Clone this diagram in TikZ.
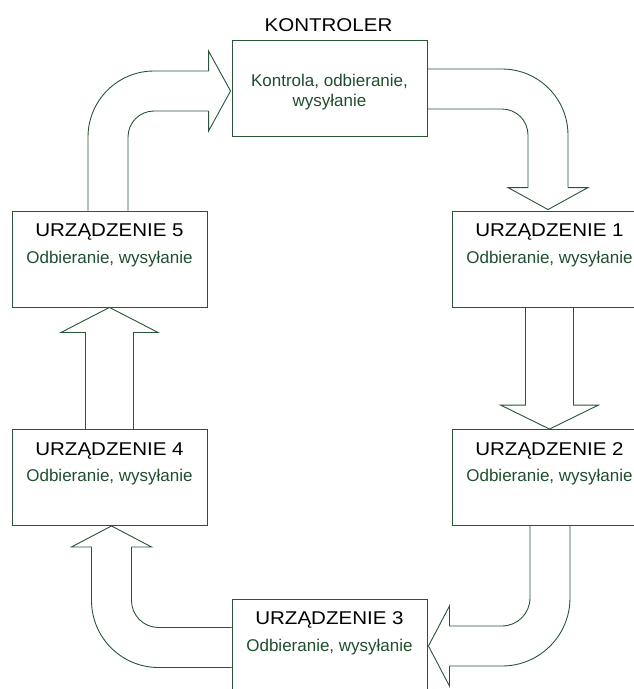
\documentclass[tikz,border=0pt]{standalone}
\usepackage{fontspec}
\usepackage{graphicx}
\setmainfont{Liberation Sans}
\usetikzlibrary{calc}
\definecolor{lncol}{RGB}{40,85,55}
\definecolor{txtcol}{RGB}{30,78,45}
\tikzset{
  box/.style={draw=lncol, line width=0.9pt, minimum width=195pt, minimum height=96pt, inner sep=0pt},
  ttl/.style={anchor=base, inner sep=0pt, font=\fontsize{18.5}{20}\selectfont, text=black},
  sub/.style={anchor=base, inner sep=0pt, font=\fontsize{17}{20}\selectfont, text=txtcol},
  ln/.style={draw=lncol, line width=0.9pt, line join=miter},
}
\newcommand{\widetitle}[1]{\scalebox{1.11}[1]{#1}}
\begin{document}
\begin{tikzpicture}[x=1pt,y=-1pt]
\useasboundingbox (0,0) rectangle (634,689);
\clip (0,0) rectangle (634,689);
% boxes
\node[box] (k)  at (329.5,88.5) {};
\node[box] (d1) at (549.5,259) {};
\node[box] (d2) at (549.5,477.5) {};
\node[box] (d3) at (329.5,647) {};
\node[box] (d4) at (109.5,477.5) {};
\node[box] (d5) at (109.5,259) {};
% texts
\node[ttl] (kt) at (328.5,31.7) {\widetitle{KONTROLER}};
\node[sub] (ks1) at (329.5,86.7) {Kontrola, odbieranie,};
\node[sub] (ks2) at (329.5,106.7) {wysyłanie};
\foreach \n/\t in {d1/1,d2/2,d3/3,d4/4,d5/5}{
  \node[ttl] (\n t) at ($(\n.north)+(0,26)$) {\widetitle{URZĄDZENIE \t}};
  \node[sub] (\n s) at ($(\n.north)+(0,52.5)$) {Odbieranie, wysyłanie};
}
% arrow d5 -> k
\coordinate (a1s) at ($(d5.north)+(-1.5,0)$);
\coordinate (a1t) at ($(k.west)+(-1,2.5)$);
\draw[ln, rounded corners=66pt] ($(a1s)+(-20,0)$) |- ($(a1t)+(-22,-20)$);
\draw[ln, rounded corners=26pt] ($(a1s)+(20,0)$) |- ($(a1t)+(-22,20)$);
\draw[ln] ($(a1t)+(-22,-20)$) -- ++(0,-20) -- (a1t) -- ($(a1t)+(-22,40)$) -- ++(0,-20);
% arrow k -> d1
\coordinate (a2s) at ($(k.east)+(0,0.5)$);
\coordinate (a2t) at ($(d1.north)+(-1.5,-1)$);
\draw[ln, rounded corners=66pt] ($(a2s)+(0,-20)$) -| ($(a2t)+(20,-22)$);
\draw[ln, rounded corners=26pt] ($(a2s)+(0,20)$) -| ($(a2t)+(-20,-22)$);
\draw[ln] ($(a2t)+(20,-22)$) -- ++(20,0) -- (a2t) -- ($(a2t)+(-40,-22)$) -- ++(20,0);
% arrow d1 -> d2
\draw[ln] ($(d1.south)+(-24,0)$) -- ($(d2.north)+(-24,-24)$) -- ++(-25,0) -- (d2.north)
  -- ($(d2.north)+(49,-24)$) -- ++(-25,0) -- ($(d1.south)+(24,0)$);
% arrow d2 -> d3
\coordinate (a4s) at ($(d2.south)+(0.5,0)$);
\coordinate (a4t) at ($(d3.east)+(1,-1)$);
\draw[ln, rounded corners=28pt] ($(a4s)+(-20,0)$) |- ($(a4t)+(21,-20)$);
\draw[ln, rounded corners=68pt] ($(a4s)+(20,0)$) |- ($(a4t)+(21,20)$);
\draw[ln] ($(a4t)+(21,-20)$) -- ++(0,-20) -- (a4t) -- ($(a4t)+(21,40)$) -- ++(0,-20);
% arrow d3 -> d4
\coordinate (a5s) at ($(d3.west)+(0,0.5)$);
\coordinate (a5t) at ($(d4.south)+(2,0)$);
\draw[ln, rounded corners=27pt] ($(a5s)+(0,-20)$) -| ($(a5t)+(20,21)$);
\draw[ln, rounded corners=67pt] ($(a5s)+(0,20)$) -| ($(a5t)+(-20,21)$);
\draw[ln] ($(a5t)+(20,21)$) -- ++(20,0) -- (a5t) -- ($(a5t)+(-40,21)$) -- ++(20,0);
% arrow d4 -> d5
\draw[ln] ($(d4.north)+(-24,0)$) -- ($(d5.south)+(-24,25)$) -- ++(-24.5,0) -- (d5.south)
  -- ($(d5.south)+(48.5,25)$) -- ++(-24.5,0) -- ($(d4.north)+(24,0)$);
\end{tikzpicture}
\end{document}
